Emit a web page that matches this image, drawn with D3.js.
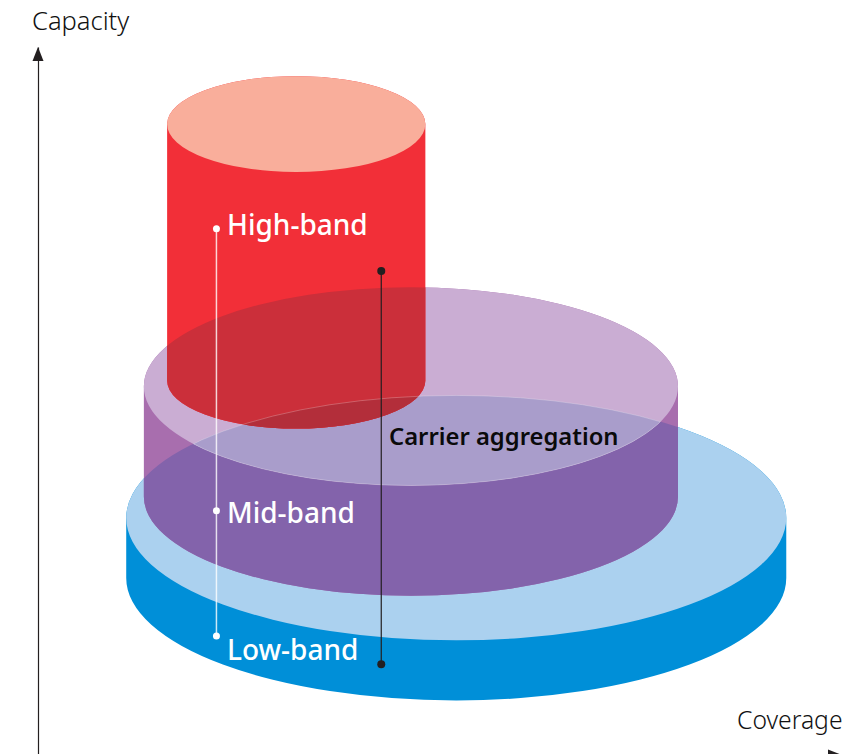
<!DOCTYPE html>
<html>
<head>
<meta charset="utf-8">
<script src="https://cdn.jsdelivr.net/npm/d3@7"></script>
<style>
  html, body { margin: 0; padding: 0; background: #fff; overflow: hidden; }
  svg { display: block; }
  text { font-family: "Noto Sans", Lato, sans-serif; }
</style>
</head>
<body>
<div id="chart"></div>
<script>
'use strict';

// cylinders, in axis units (0-100 on both axes)
var bandNames = ['Low-band', 'Mid-band', 'High-band'];
var coverageFrom = [11.0, 13.2, 16.1];
var coverageTo = [93.3, 79.8, 48.3];
var capacityBase = [24.9, 36.4, 52.8];
var capacityTop = [33.4, 52.0, 89.1];

// callout stems
var bandStemCapacity = [16.7, 34.4, 74.3];
var bandLabelCapacity = [13.3, 32.7, 73.4];
var bandStemCoverage = 22.25;
var carrierStem = { coverage: 42.8, from: 12.7, to: 68.3 };

var width = 862, height = 754;

var x = d3.scaleLinear().domain([0, 100]).range([38, 840]);
var y = d3.scaleLinear().domain([0, 100]).range([754, 47]);

// discs are seen at one fixed tilt, depth is this fraction of the radius
var tilt = 0.371;

var bands = bandNames.map(function(name, i) {
    var left = x(coverageFrom[i]), right = x(coverageTo[i]);
    return {
        name: name,
        left: left,
        right: right,
        rx: (right - left) / 2,
        ry: (right - left) / 2 * tilt,
        top: y(capacityTop[i]),
        base: y(capacityBase[i])
    };
});
var low = bands[0], mid = bands[1], high = bands[2];

function discPath(b) {
    return 'M' + b.left + ',' + b.top +
        'A' + b.rx + ',' + b.ry + ' 0 1 1 ' + b.right + ',' + b.top +
        'A' + b.rx + ',' + b.ry + ' 0 1 1 ' + b.left + ',' + b.top + 'Z';
}

// outline of the whole cylinder, top disc and wall together
function bodyPath(b) {
    return 'M' + b.left + ',' + b.top +
        'A' + b.rx + ',' + b.ry + ' 0 1 1 ' + b.right + ',' + b.top +
        'L' + b.right + ',' + b.base +
        'A' + b.rx + ',' + b.ry + ' 0 1 1 ' + b.left + ',' + b.base + 'Z';
}

var svg = d3.select('#chart').append('svg')
    .attr('width', width)
    .attr('height', height);

var defs = svg.append('defs');
function addClip(id, d, parent) {
    var c = defs.append('clipPath').attr('id', id);
    if (parent) c.attr('clip-path', 'url(#' + parent + ')');
    c.append('path').attr('d', d);
}
addClip('clip-low-top', discPath(low));
addClip('clip-mid-top', discPath(mid));
addClip('clip-mid-top-low', discPath(mid), 'clip-low-top');

function fillShape(d, color, clip) {
    var p = svg.append('path').attr('d', d).attr('fill', color);
    if (clip) p.attr('clip-path', 'url(#' + clip + ')');
    return p;
}

// low band
fillShape(bodyPath(low), '#008fd8');
fillShape(discPath(low), '#abd1ef');

// mid band, the see-through tints are painted per overlap
fillShape(bodyPath(mid), '#a86eae');
fillShape(bodyPath(mid), '#8363ab', 'clip-low-top');
fillShape(discPath(mid), '#caadd3');
fillShape(discPath(mid), '#a99dcb', 'clip-low-top');

// high band
fillShape(bodyPath(high), '#f22f38');
fillShape(bodyPath(high), '#cb2f3a', 'clip-mid-top');
fillShape(bodyPath(high), '#b32e3a', 'clip-mid-top-low');
fillShape(discPath(high), '#f9ae9b');

// thin pale rims where the discs cross each other
fillShape(discPath(mid), 'none', 'clip-low-top').attr('stroke', '#fff').attr('stroke-opacity', 0.3).attr('stroke-width', 0.8);
fillShape(discPath(low), 'none', 'clip-mid-top').attr('stroke', '#fff').attr('stroke-opacity', 0.3).attr('stroke-width', 0.8);

// axes
var ink = '#231f20';
var axisY = 755;
svg.append('g')
    .attr('transform', 'translate(' + x(0) + ',0)')
    .call(d3.axisLeft(y).tickValues([]).tickSize(0))
    .select('.domain').attr('stroke', ink).attr('stroke-width', 1.2);
svg.append('g')
    .attr('transform', 'translate(0,' + axisY + ')')
    .call(d3.axisBottom(x).tickValues([]).tickSize(0))
    .select('.domain').attr('stroke', ink).attr('stroke-width', 1.2);

svg.append('path')
    .attr('d', 'M0,0L5.5,14L-5.5,14Z')
    .attr('fill', ink)
    .attr('transform', 'translate(' + x(0) + ',' + y(100) + ')');
svg.append('path')
    .attr('d', 'M0,0L5.5,14L-5.5,14Z')
    .attr('fill', ink)
    .attr('transform', 'translate(' + (x(100) + 2) + ',' + axisY + ') rotate(90)');

svg.append('text').attr('x', 32).attr('y', 30)
    .attr('font-size', 25.5).attr('font-weight', 300).attr('fill', '#111').text('Capacity');
svg.append('text').attr('x', 737).attr('y', 729)
    .attr('font-size', 24.7).attr('font-weight', 300).attr('fill', '#111').text('Coverage');

// white stem with a dot per band
var stemX = x(bandStemCoverage);
svg.append('line')
    .attr('x1', stemX).attr('x2', stemX)
    .attr('y1', y(d3.min(bandStemCapacity))).attr('y2', y(d3.max(bandStemCapacity)))
    .attr('stroke', '#fff').attr('stroke-opacity', 0.8).attr('stroke-width', 1.5);
svg.selectAll('circle.band-dot')
    .data(bandStemCapacity)
    .enter()
    .append('circle')
    .attr('class', 'band-dot')
    .attr('cx', stemX)
    .attr('cy', function(d) { return y(d); })
    .attr('r', 3.5)
    .attr('fill', '#fff');

svg.selectAll('text.band-label')
    .data(bandNames)
    .enter()
    .append('text')
    .attr('class', 'band-label')
    .attr('x', 227)
    .attr('y', function(d, i) { return y(bandLabelCapacity[i]); })
    .attr('font-size', 28)
    .attr('font-weight', 500)
    .attr('fill', '#fff')
    .text(function(d) { return d; });

// carrier aggregation stem
var carrierX = x(carrierStem.coverage);
svg.append('line')
    .attr('x1', carrierX).attr('x2', carrierX)
    .attr('y1', y(carrierStem.from)).attr('y2', y(carrierStem.to))
    .attr('stroke', ink).attr('stroke-width', 1.2);
svg.selectAll('circle.carrier-dot')
    .data([carrierStem.from, carrierStem.to])
    .enter()
    .append('circle')
    .attr('class', 'carrier-dot')
    .attr('cx', carrierX)
    .attr('cy', function(d) { return y(d); })
    .attr('r', 4)
    .attr('fill', ink);

svg.append('text').attr('x', 389).attr('y', 445)
    .attr('font-size', 23.8).attr('font-weight', 600).attr('fill', '#0a0a0a')
    .text('Carrier aggregation');
</script>
</body>
</html>
